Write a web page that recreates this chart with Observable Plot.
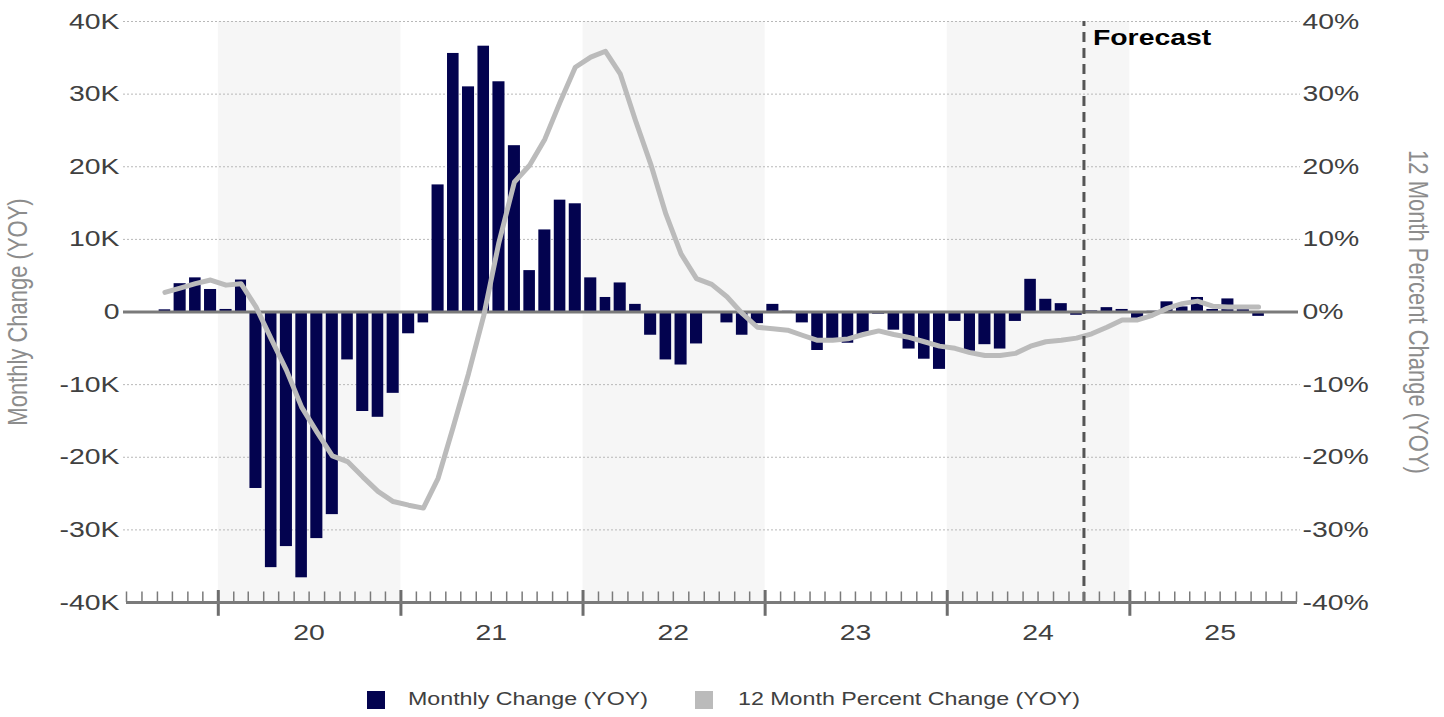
<!DOCTYPE html>
<html><head><meta charset="utf-8">
<script src="https://cdn.jsdelivr.net/npm/d3@7"></script>
<script src="https://cdn.jsdelivr.net/npm/@observablehq/plot@0.6"></script>
<style>
body{margin:0;background:#fff;font-family:"Liberation Sans",Arial,sans-serif;}
#chart svg{display:block;}
#legend{position:relative;width:1444px;height:47px;}
.sw{position:absolute;width:18px;height:18px;top:21px;}
.lt{position:absolute;top:18px;font-size:18px;line-height:22px;color:#404040;transform:scaleX(1.29);transform-origin:left center;white-space:nowrap;}
</style></head><body>
<div id="chart"></div>
<div id="legend">
  <div class="sw" style="left:367px;background:#03034f"></div><div class="lt" style="left:408px">Monthly Change (YOY)</div>
  <div class="sw" style="left:695px;background:#bbbbbb"></div><div class="lt" style="left:738px">12 Month Percent Change (YOY)</div>
</div>
<script>
// ---- data ----
const firstMonth = "2019-09-01";
// Monthly Change (YOY), thousands, Sep 2019 .. Sep 2025
const monthlyChangeK = [
  0.3, 3.9, 4.7, 3.1,
  0.35, 4.4, -24.3, -35.2, -32.3, -36.6, -31.2, -27.9, -6.6, -13.7, -14.5, -11.2,
  -3.0, -1.5, 17.5, 35.6, 31.0, 36.6, 31.7, 22.9, 5.7, 11.3, 15.4, 14.9,
  4.7, 2.0, 4.0, 1.05, -3.2, -6.6, -7.3, -4.4, -0.1, -1.5, -3.2, -1.6,
  1.05, 0.1, -1.5, -5.3, -4.1, -4.3, -3.1, -0.3, -2.5, -5.1, -6.5, -7.9,
  -1.3, -5.4, -4.5, -5.1, -1.3, 4.5, 1.75, 1.15, -0.45, 0.15, 0.6, 0.35,
  -0.9, 0.1, 1.4, 0.7, 2.0, 0.35, 1.8, 0.35, -0.6
];
// 12 Month Percent Change (YOY), %, Sep 2019 .. Sep 2025
const pctChange = [
  2.7, 3.3, 3.9, 4.4,
  3.7, 3.9, 0.7, -3.7, -8.0, -13.1, -16.5, -19.8, -20.6, -22.7, -24.7, -26.1,
  -26.6, -27.0, -22.9, -15.8, -8.5, -0.5, 9.6, 17.9, 20.2, 23.8, 28.9, 33.7,
  35.1, 35.9, 32.8, 26.4, 20.4, 13.5, 8.0, 4.6, 3.8, 2.1, -0.2, -2.1,
  -2.3, -2.5, -3.2, -3.9, -3.9, -3.7, -3.1, -2.6, -3.1, -3.5, -4.1, -4.7,
  -5.0, -5.6, -6.0, -6.0, -5.7, -4.7, -4.1, -3.9, -3.6, -3.0, -2.1, -1.1,
  -1.1, -0.45, 0.5, 1.15, 1.5, 0.8, 0.7, 0.7, 0.7
];
const yTicks = [-40000, -30000, -20000, -10000, 0, 10000, 20000, 30000, 40000];
const years = [2020, 2021, 2022, 2023, 2024, 2025];
const shadedYears = [2020, 2022, 2024];
const axisStart = "2019-07-01";
const axisEnd = "2025-12-01";
const forecastStart = "2024-10-01";
const leftTitle = "Monthly Change (YOY)";
const rightTitle = "12 Month Percent Change (YOY)";
const forecastLabel = "Forecast";

// ---- build ----
const d0 = new Date(firstMonth);
const rows = monthlyChangeK.map((v, i) => {
  const date = d3.utcMonth.offset(d0, i);
  const next = d3.utcMonth.offset(d0, i + 1);
  return {date, next, mid: new Date((+date + +next) / 2), value: v * 1000, pct: pctChange[i] * 1000};
});
const monthTicks = d3.utcMonth.range(new Date(axisStart), d3.utcDay.offset(new Date(axisEnd), 1));
const yearStarts = years.map(y => new Date(Date.UTC(y, 0, 1)));
const yearMids = years.map(y => new Date(Date.UTC(y, 6, 1)));
const bands = shadedYears.map(y => ({x1: new Date(Date.UTC(y, 0, 1)), x2: new Date(Date.UTC(y + 1, 0, 1))}));
const yMin = yTicks[0], yMax = yTicks[yTicks.length - 1];
const fmtK = d => d === 0 ? "0" : (d < 0 ? "-" : "") + Math.abs(d / 1000) + "K";
const fmtP = d => (d < 0 ? "-" : "") + Math.abs(d / 1000) + "%";

const chart = Plot.plot({
  width: 1444, height: 670,
  marginLeft: 126, marginRight: 148, marginTop: 21, marginBottom: 68,
  style: {fontFamily: "'Liberation Sans', Arial, sans-serif", background: "#fff", overflow: "visible"},
  x: {type: "utc", domain: [new Date(axisStart), new Date(axisEnd)], axis: null},
  y: {domain: [yMin, yMax], axis: null},
  marks: [
    Plot.rect(bands, {x1: "x1", x2: "x2", y1: yMin, y2: yMax, fill: "#f6f6f6"}),
    Plot.ruleY(yTicks.filter(d => d !== 0 && d !== yMin), {stroke: "#b8b8b8", strokeDasharray: "2,2", strokeWidth: 1, insetLeft: -3, insetRight: -4}),
    Plot.rectY(rows, {x1: "date", x2: "next", y: "value", fill: "#03034f", insetLeft: 1.7, insetRight: 1.7}),
    Plot.ruleY([0], {stroke: "#7a7a7a", strokeWidth: 3, insetLeft: -3, insetRight: -2}),
    Plot.line(rows, {x: "mid", y: "pct", stroke: "#bbbbbb", strokeWidth: 5, strokeLinejoin: "round", strokeLinecap: "round"}),
    Plot.ruleX([new Date(forecastStart)], {y1: yMin, y2: yMax, stroke: "#555", strokeWidth: 3, strokeDasharray: "10,6"}),
    Plot.text([forecastLabel], {x: new Date(forecastStart), y: yMax, dx: 9, dy: 16, textAnchor: "start", fontWeight: "bold", fontSize: 22, fill: "#000"}),
    // bottom axis line and ticks
    Plot.ruleX(monthTicks, {x: d => d, y1: yMin, y2: yMin + 1450, stroke: "#7a7a7a", strokeWidth: 1.5}),
    Plot.ruleX(yearStarts, {x: d => d, y1: yMin - 1900, y2: yMin + 1650, stroke: "#6e6e6e", strokeWidth: 3}),
    Plot.ruleY([yMin], {stroke: "#7a7a7a", strokeWidth: 3, insetRight: -1}),
    Plot.axisX({ticks: yearMids, tickSize: 0, tickPadding: 22, tickFormat: d3.utcFormat("%y"), fontSize: 22, fill: "#404040"}),
    Plot.axisY({anchor: "left", ticks: yTicks, tickSize: 0, tickPadding: 7, tickFormat: fmtK, fontSize: 22, fill: "#404040", label: null}),
    Plot.axisY({anchor: "right", ticks: yTicks, tickSize: 0, tickPadding: 6, tickFormat: fmtP, fontSize: 22, fill: "#404040", label: null}),
    Plot.text([leftTitle], {frameAnchor: "left", dx: -109, rotate: -90, textAnchor: "middle", fontSize: 22, fill: "#8c8c8c"}),
    Plot.text([rightTitle], {frameAnchor: "right", dx: 122, rotate: 90, textAnchor: "middle", fontSize: 22, fill: "#8c8c8c"})
  ]
});
document.getElementById("chart").appendChild(chart);

// the reference's text is horizontally widened
const STRETCH = 1.29;
chart.querySelectorAll("text").forEach(t => {
  const s = t.textContent;
  if (s === leftTitle || s === rightTitle) {
    t.setAttribute("transform", (t.getAttribute("transform") || "") + " scale(1," + STRETCH + ")");
    return;
  }
  const len = t.getComputedTextLength();
  if (len > 0) {
    t.setAttribute("textLength", (len * STRETCH).toFixed(1));
    t.setAttribute("lengthAdjust", "spacingAndGlyphs");
  }
});
</script>
</body></html>
